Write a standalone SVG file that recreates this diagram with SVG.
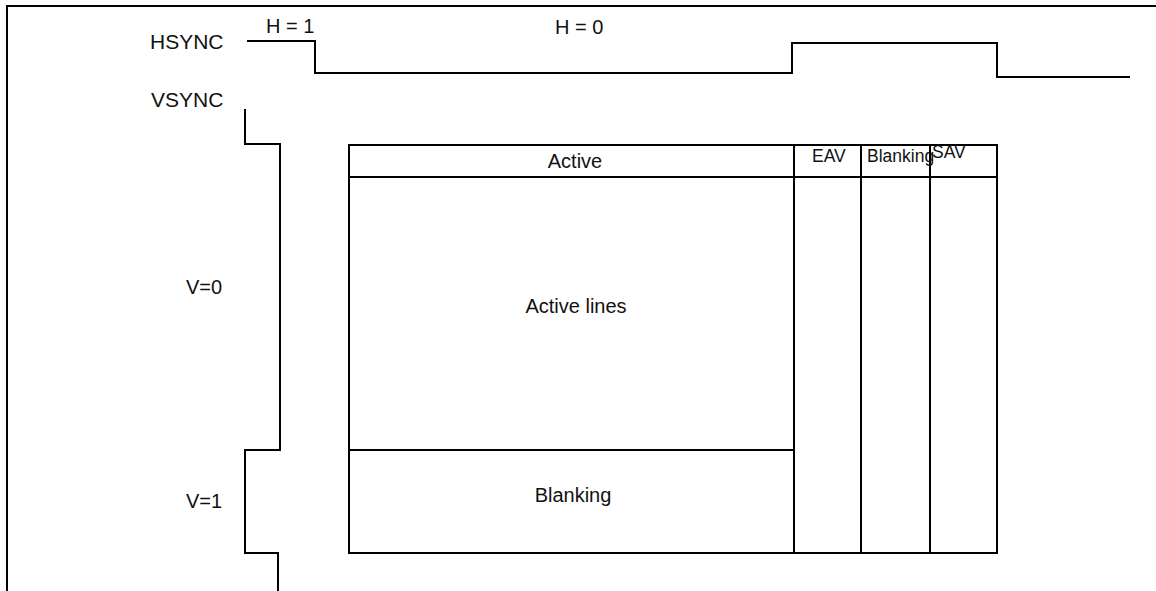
<svg xmlns="http://www.w3.org/2000/svg" width="1156" height="591" viewBox="0 0 1156 591">
<style>
.ln{fill:none;stroke:#000;stroke-width:2}
text{font-family:"Liberation Sans",Arial,sans-serif;font-size:20px;fill:#111}
.sig{font-size:21px}
.sm{font-size:17.5px}
.c{text-anchor:middle}
</style>
<rect width="1156" height="591" fill="#fff"/>
<g id="frame"><path class="ln" d="M7,591 V6 H1156"/></g>
<g id="labels">
<text class="sig" x="150" y="49">HSYNC</text>
<text class="sig" x="151" y="107">VSYNC</text>
<text x="266" y="33">H = 1</text>
<text x="555" y="34">H = 0</text>
<text x="186" y="294">V=0</text>
<text x="186" y="508">V=1</text>
</g>
<g id="connectors">
<path id="hsync-wave" class="ln" d="M247,41 H315 V73 H792 V43 H997 V77 H1130"/>
<path id="vsync-wave" class="ln" d="M245,109 V144 H280 V450 H245 V553 H278 V591"/>
</g>
<g id="table">
<rect class="ln" x="349" y="145" width="648" height="408"/>
<path class="ln" d="M349,177 H997 M794,145 V553 M861,145 V553 M930,145 V553 M349,450 H794"/>
</g>
<g id="active-header"><text class="c" x="575" y="168">Active</text></g>
<g id="eav"><text class="sm" x="812" y="162">EAV</text></g>
<g id="blanking-h"><text class="sm" x="867" y="162">Blanking</text></g>
<g id="sav"><text class="sm" x="932" y="158">SAV</text></g>
<g id="active-lines"><text class="c" x="576" y="313">Active lines</text></g>
<g id="blanking-v"><text class="c" x="573" y="502">Blanking</text></g>
</svg>
